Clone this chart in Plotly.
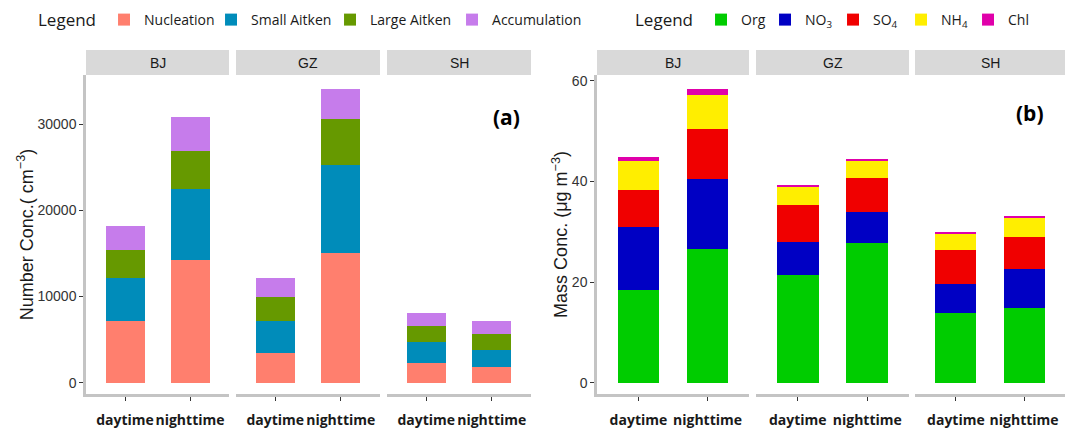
import plotly.graph_objects as go

# ---- data -------------------------------------------------------------
sites = ["BJ", "GZ", "SH"]
periods = ["daytime", "nighttime"]

# particle number concentration by mode (cm^-3), [daytime, nighttime] per site
number_modes = ["Nucleation", "Small Aitken", "Large Aitken", "Accumulation"]
nucleation = {"BJ": [7160, 14280], "GZ": [3450, 15020], "SH": [2320, 1820]}
small_aitken = {"BJ": [5030, 8210], "GZ": [3710, 10290], "SH": [2400, 1980]}
large_aitken = {"BJ": [3210, 4410], "GZ": [2820, 5300], "SH": [1900, 1850]}
accumulation = {"BJ": [2830, 3910], "GZ": [2140, 3450], "SH": [1430, 1480]}

# PM mass concentration by species (ug m^-3), [daytime, nighttime] per site
mass_species = ["Org", "NO<sub>3</sub>", "SO<sub>4</sub>", "NH<sub>4</sub>", "Chl"]
org = {"BJ": [18.4, 26.6], "GZ": [21.4, 27.8], "SH": [13.9, 14.8]}
no3 = {"BJ": [12.5, 13.9], "GZ": [6.6, 6.1], "SH": [5.8, 7.7]}
so4 = {"BJ": [7.4, 9.9], "GZ": [7.3, 6.8], "SH": [6.7, 6.5]}
nh4 = {"BJ": [5.75, 6.8], "GZ": [3.7, 3.5], "SH": [3.3, 3.8]}
chl = {"BJ": [0.75, 1.1], "GZ": [0.3, 0.25], "SH": [0.2, 0.3]}

number_colors = ["#FF7F6E", "#008CBA", "#669900", "#C67CEB"]
mass_colors = ["#00CC00", "#0000C4", "#F00000", "#FFEE00", "#E000AA"]

# legend entry widths (px) so the keys sit evenly along the top row
number_entry_w = [62, 74, 77, 92]
mass_entry_w = [19, 23, 23, 22, 26]

# ---- layout geometry (pixels on a 1065 x 429 canvas) ------------------
W, H = 1065, 429
plot_top, plot_bottom = 75, 394
strip_top = 50
facet_px = {
    "a": [(86, 229), (236, 380), (387, 531)],
    "b": [(597, 749), (756, 909), (915, 1065)],
}
ydom = [(H - plot_bottom) / H, (H - plot_top) / H]

AXIS_GREY = "#C4C4C4"
TEXT_DARK = "#1A1A1A"
TICK_GREY = "#333333"
SANS = "Liberation Sans, Arial, sans-serif"
HUMANIST = "Open Sans, sans-serif"

fig = go.Figure()
layout = {}

panels = [
    ("a", [nucleation, small_aitken, large_aitken, accumulation], number_modes,
     number_colors, number_entry_w, "legend", [-1310, 35720],
     "Number Conc.( cm<sup>−3</sup>)", [0, 10000, 20000, 30000]),
    ("b", [org, no3, so4, nh4, chl], mass_species,
     mass_colors, mass_entry_w, "legend2", [-2.25, 61.13],
     "Mass Conc. (μg m<sup>−3</sup>)", [0, 20, 40, 60]),
]

shapes = []
annotations = []
axis_idx = 0
for panel, series, names, colors, entry_w, legend_name, yrange, ytitle, yticks in panels:
    first_idx = axis_idx + 1
    for k, site in enumerate(sites):
        axis_idx += 1
        xa = "x" if axis_idx == 1 else f"x{axis_idx}"
        ya = "y" if axis_idx == 1 else f"y{axis_idx}"
        x0, x1 = facet_px[panel][k]
        for s, (vals, name, col, lw) in enumerate(zip(series, names, colors, entry_w)):
            fig.add_trace(go.Bar(
                x=periods, y=vals[site], name=name,
                marker=dict(color=col, line=dict(width=0)),
                width=0.6, xaxis=xa, yaxis=ya,
                legend=legend_name, legendgroup=f"{panel}-{name}",
                legendwidth=lw, showlegend=(k == 0),
            ))
        layout[f"xaxis{axis_idx}"] = dict(
            domain=[x0 / W, x1 / W], anchor=ya,
            type="category", range=[-0.6, 1.6],
            showline=True, linecolor=AXIS_GREY, linewidth=2.5,
            ticks="outside", ticklen=4, tickcolor=TICK_GREY, tickwidth=1,
            tickangle=0, automargin=False,
            tickfont=dict(family=HUMANIST, size=14, color=TEXT_DARK, weight="bold"),
            ticklabelstandoff=7,
            showgrid=False, zeroline=False, fixedrange=True,
        )
        yax = dict(
            domain=ydom, anchor=xa, range=yrange, automargin=False,
            showgrid=False, zeroline=False, fixedrange=True,
        )
        if k == 0:
            yax.update(
                showline=True, linecolor=AXIS_GREY, linewidth=2.5,
                ticks="outside", ticklen=4, tickcolor=TICK_GREY, tickwidth=1,
                tickvals=yticks, tickformat="d",
                tickfont=dict(family=SANS, size=14, color="#333333"),
                title=dict(text=ytitle, font=dict(family=SANS, size=18, color=TEXT_DARK),
                           standoff=0),
            )
        else:
            yax.update(matches="y" if first_idx == 1 else f"y{first_idx}",
                       showticklabels=False, showline=False, ticks="")
        layout[f"yaxis{axis_idx}"] = yax

        # facet strip
        shapes.append(dict(type="rect", xref="paper", yref="paper",
                           x0=x0 / W, x1=x1 / W,
                           y0=(H - plot_top) / H, y1=(H - strip_top) / H,
                           fillcolor="#D9D9D9", line=dict(width=0), layer="below"))
        annotations.append(dict(text=site, xref="paper", yref="paper",
                                x=(x0 + x1) / 2 / W, y=(H - (plot_top + strip_top) / 2) / H,
                                showarrow=False, xanchor="center", yanchor="middle",
                                font=dict(family=SANS, size=14, color=TEXT_DARK)))

# panel tags
annotations.append(dict(text="<b>(a)</b>", xref="paper", yref="paper",
                        x=506 / W, y=(H - 101) / H, showarrow=False,
                        font=dict(family=HUMANIST, size=21, color="black")))
annotations.append(dict(text="<b>(b)</b>", xref="paper", yref="paper",
                        x=1046 / W, y=(H - 97) / H, showarrow=False,
                        font=dict(family=HUMANIST, size=21, color="black")))

legend_common = dict(
    orientation="h", yanchor="top", y=1 - 4 / H, xanchor="left",
    traceorder="normal", bgcolor="rgba(0,0,0,0)",
    font=dict(family=HUMANIST, size=14, color=TEXT_DARK),
    title=dict(text="Legend", font=dict(family=HUMANIST, size=17, color=TEXT_DARK)),
)

fig.update_layout(
    **layout,
    barmode="stack",
    width=W, height=H,
    margin=dict(l=0, r=0, t=0, b=0),
    paper_bgcolor="white", plot_bgcolor="white",
    shapes=shapes, annotations=annotations,
    legend=dict(legend_common, x=36 / W),
    legend2=dict(legend_common, x=633 / W),
)

fig.write_html("out.html")
